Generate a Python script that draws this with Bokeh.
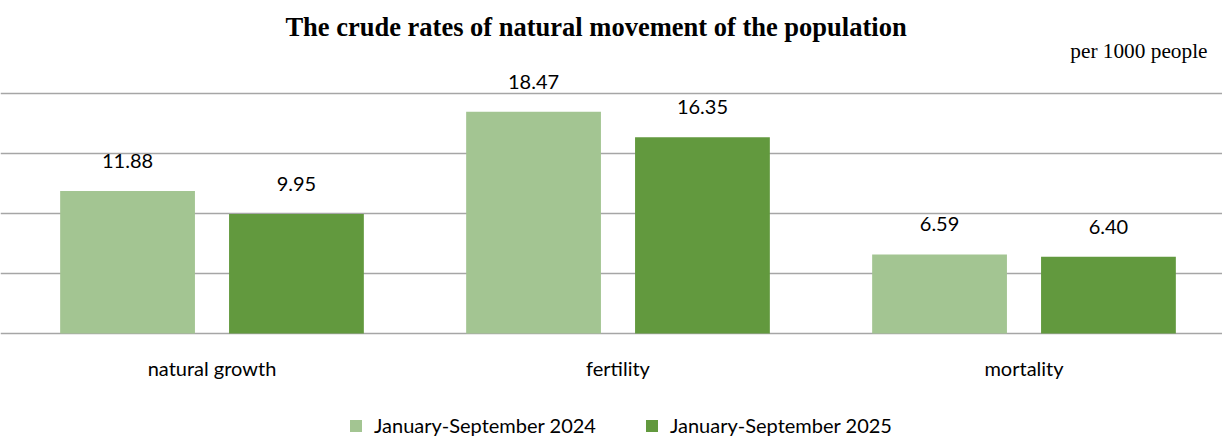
from bokeh.plotting import figure
from bokeh.models import Range1d, FixedTicker, ColumnDataSource, Label, Legend, LegendItem
from bokeh.core.properties import value
from bokeh.embed import file_html
from bokeh.resources import INLINE

categories = ["natural growth", "fertility", "mortality"]
series_names = ["January-September 2024", "January-September 2025"]
values_2024 = [11.88, 18.47, 6.59]
values_2025 = [9.95, 16.35, 6.40]
colors = ["#A3C592", "#62993E"]

title_text = "The crude rates of natural movement of the population"
unit_text = "per 1000 people"

W, H = 1222, 436
GX = 406.0      # px per category group
GY = 12.0       # px per unit
BASE = 333.0    # px of value 0 from top
X0 = 8.5        # px of first group start
SHIFT = 8       # text baseline correction

p = figure(width=W, height=H, output_backend="svg", toolbar_location=None,
           x_range=Range1d(-X0 / GX, (W - X0) / GX),
           y_range=Range1d((BASE - H) / GY, BASE / GY),
           x_axis_location=None, y_axis_location=None,
           min_border=0)
p.outline_line_color = None
p.background_fill_color = "white"
p.border_fill_color = "white"

centers = [i + 0.5 for i in range(len(categories))]
offset = 0.208
bw = 0.332
font = value("Lato")

renderers = []
for k, (vals, col) in enumerate(zip([values_2024, values_2025], colors)):
    xs = [c + (offset if k else -offset) for c in centers]
    src = ColumnDataSource(dict(x=xs, top=vals, lab=["%.2f" % v for v in vals]))
    r = p.vbar(x="x", top="top", bottom=0, width=bw, source=src,
               fill_color=col, line_color=None)
    renderers.append(r)
    p.text(x="x", y="top", text="lab", source=src, text_align="center",
           text_baseline="alphabetic", y_offset=-22 - SHIFT,
           text_font=font, text_font_size="20px", text_color="#000000")

# gridlines
p.ygrid.ticker = FixedTicker(ticks=[0, 5, 10, 15, 20])
p.ygrid.grid_line_color = "#A6A6A6"
p.ygrid.grid_line_width = 1.5
p.xgrid.grid_line_color = None

# category labels (axis labels)
cat_src = ColumnDataSource(dict(x=centers, y=[0] * len(centers), t=categories))
p.text(x="x", y="y", text="t", source=cat_src, text_align="center",
       text_baseline="alphabetic", y_offset=42 - SHIFT,
       text_font=font, text_font_size="20px", text_color="#000000")

# title & unit
p.add_layout(Label(x=(595.5 - X0) / GX, y=(BASE - 34 + SHIFT) / GY, text=title_text, text_align="center",
                   text_baseline="alphabetic", text_font="Liberation Serif", text_font_style="bold",
                   text_font_size="26.5px", text_color="#000000"))
p.add_layout(Label(x=(1207 - X0) / GX, y=(BASE - 58 + SHIFT) / GY, text=unit_text, text_align="right",
                   text_baseline="alphabetic", text_font="Liberation Serif",
                   text_font_size="21.3px", text_color="#000000"))

legend = Legend(items=[LegendItem(label=n, renderers=[r]) for n, r in zip(series_names, renderers)],
                orientation="horizontal", location=(348, -1),
                glyph_width=15, glyph_height=15, label_standoff=11, spacing=48,
                padding=0, margin=0, border_line_color=None, background_fill_alpha=0,
                label_text_font="Lato", label_text_font_size="20px", label_text_color="#000000",
                label_height=20)
p.add_layout(legend, "center")

open("out.html", "w").write(file_html(p, INLINE))
